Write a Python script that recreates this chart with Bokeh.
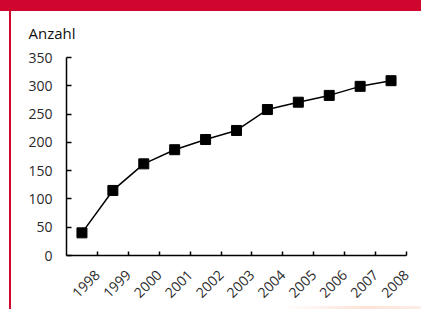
from bokeh.plotting import figure
from bokeh.models import FixedTicker
from bokeh.embed import file_html
from bokeh.resources import INLINE

years = ["1998", "1999", "2000", "2001", "2002", "2003", "2004", "2005", "2006", "2007", "2008"]
counts = [40, 115, 162, 187, 205, 221, 258, 271, 283, 299, 309]
y_ticks = [0, 50, 100, 150, 200, 250, 300, 350]

FONT = "Open Sans"
RED = "#d0062f"

p = figure(width=421, height=309, x_range=(0, len(years)), y_range=(0, 350),
           output_backend="svg", toolbar_location=None,
           min_border_left=66, min_border_right=15, min_border_top=57, min_border_bottom=54)
p.grid.visible = False
p.outline_line_color = None
p.background_fill_color = "white"
p.border_fill_color = None
p.styles = {
    "box-shadow": f"inset 0 11px 0 0 {RED}, inset 9px 0 0 0 #ffffff, inset 11px 0 0 0 {RED}",
    "background": "linear-gradient(to right, rgba(253,226,214,0) 0%, #fde2d6 60%, #fdeee8 100%) right bottom / 140px 3px no-repeat, #ffffff",
}

p.title.text = "Anzahl"
p.title.align = "left"
p.title.offset = -38
p.title.standoff = 30
p.title.text_font = FONT
p.title.text_font_size = "15px"
p.title.text_font_style = "normal"
p.title.text_color = "#111111"

xs = [i + 0.5 for i in range(len(years))]
p.line(xs, counts, line_color="black", line_width=1.5)
p.scatter(xs, counts, marker="square", size=10, fill_color="black", line_color="black")

xa = p.xaxis[0]
xa.ticker = FixedTicker(ticks=[i + 1 for i in range(len(years))])
xa.major_label_overrides = {i + 1: y for i, y in enumerate(years)}
xa.major_label_orientation = 0.785398
xa.major_tick_in = 4
xa.major_tick_out = 0
xa.minor_tick_line_color = None
xa.axis_line_width = 1.5
xa.major_tick_line_width = 1.5
xa.major_label_text_font = FONT
xa.major_label_text_font_size = "14px"
xa.major_label_text_color = "#2a2a2a"
xa.major_label_standoff = 17

ya = p.yaxis[0]
ya.ticker = FixedTicker(ticks=y_ticks)
ya.major_tick_in = 5
ya.major_tick_out = 0
ya.minor_tick_line_color = None
ya.axis_line_width = 1.5
ya.major_tick_line_width = 1.5
ya.major_label_text_font = FONT
ya.major_label_text_font_size = "14px"
ya.major_label_text_color = "#2a2a2a"
ya.major_label_standoff = 14

open("out.html", "w").write(file_html(p, INLINE))
